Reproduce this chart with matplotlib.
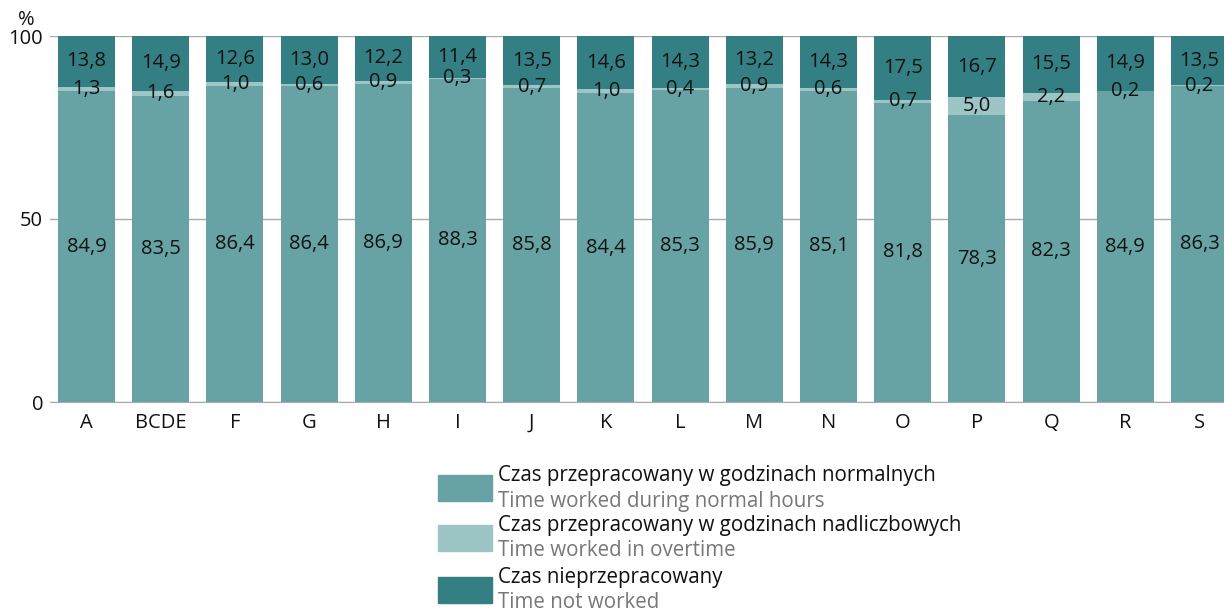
import matplotlib
matplotlib.use("Agg")
import matplotlib.pyplot as plt
from matplotlib.patches import Rectangle
import numpy as np

plt.rcParams['font.family'] = ['Open Sans', 'DejaVu Sans']

categories = ["A", "BCDE", "F", "G", "H", "I", "J", "K", "L", "M", "N", "O", "P", "Q", "R", "S"]
normal = [84.9, 83.5, 86.4, 86.4, 86.9, 88.3, 85.8, 84.4, 85.3, 85.9, 85.1, 81.8, 78.3, 82.3, 84.9, 86.3]
overtime = [1.3, 1.6, 1.0, 0.6, 0.9, 0.3, 0.7, 1.0, 0.4, 0.9, 0.6, 0.7, 5.0, 2.2, 0.2, 0.2]
not_worked = [13.8, 14.9, 12.6, 13.0, 12.2, 11.4, 13.5, 14.6, 14.3, 13.2, 14.3, 17.5, 16.7, 15.5, 14.9, 13.5]

c_normal = "#67a2a5"
c_over = "#9dc5c6"
c_not = "#347f84"

fig = plt.figure(figsize=(12.24, 6.12), dpi=100)
ax = fig.add_axes([50/1224, 1-402/612, 1-50/1224, (402-36)/612])

x = np.arange(len(categories))
w = 0.77
normal_a = np.array(normal)
over_a = np.array(overtime)
not_a = np.array(not_worked)
ax.bar(x, normal_a, w, color=c_normal, zorder=2)
ax.bar(x, over_a, w, bottom=normal_a, color=c_over, zorder=2)
ax.bar(x, not_a, w, bottom=normal_a + over_a, color=c_not, zorder=2)

def fmt(v):
    return f"{v:.1f}".replace(".", ",")

fs = 14.5
for i in range(len(categories)):
    ax.text(x[i], normal_a[i] / 2, fmt(normal[i]), ha="center", va="center", fontsize=fs, color="#111111", zorder=3)
    ax.text(x[i], normal_a[i] + over_a[i] / 2, fmt(overtime[i]), ha="center", va="center", fontsize=fs, color="#111111", zorder=3)
    ax.text(x[i], normal_a[i] + over_a[i] + not_a[i] / 2, fmt(not_worked[i]), ha="center", va="center", fontsize=fs, color="#111111", zorder=3)

ax.set_xlim(-0.492, len(categories) - 1 + 0.33)
ax.set_ylim(0, 100)
ax.set_yticks([0, 50, 100])
ax.set_yticklabels(["0", "50", "100"])
ax.set_xticks(x)
ax.set_xticklabels(categories)
ax.tick_params(axis="both", length=0, labelsize=14.5, colors="#111111")
ax.tick_params(axis="x", pad=8)
ax.tick_params(axis="y", pad=5)
for s in ["top", "right", "left"]:
    ax.spines[s].set_visible(False)
ax.spines["bottom"].set_color("#aaaaaa")
ax.grid(axis="y", color="#aaaaaa", linewidth=1, zorder=0)
ax.set_axisbelow(True)

fig.text(26/1224, 1-20/612, "%", ha="center", va="center", fontsize=14.5, color="#111111")

legend_items = [
    (c_normal, "Czas przepracowany w godzinach normalnych", "Time worked during normal hours", 475),
    (c_over, "Czas przepracowany w godzinach nadliczbowych", "Time worked in overtime", 525),
    (c_not, "Czas nieprzepracowany", "Time not worked", 577),
]
for col, pl, en, ytop in legend_items:
    fig.patches.append(Rectangle((438/1224, 1-(ytop+26)/612), 54/1224, 26/612,
                                 transform=fig.transFigure, color=col))
    fig.text(498/1224, 1-(ytop+1)/612, pl, ha="left", va="center", fontsize=14.8, color="#111111")
    fig.text(498/1224, 1-(ytop+26)/612, en, ha="left", va="center", fontsize=14.8, color="#777777")

fig.savefig("out.png", dpi=100)
